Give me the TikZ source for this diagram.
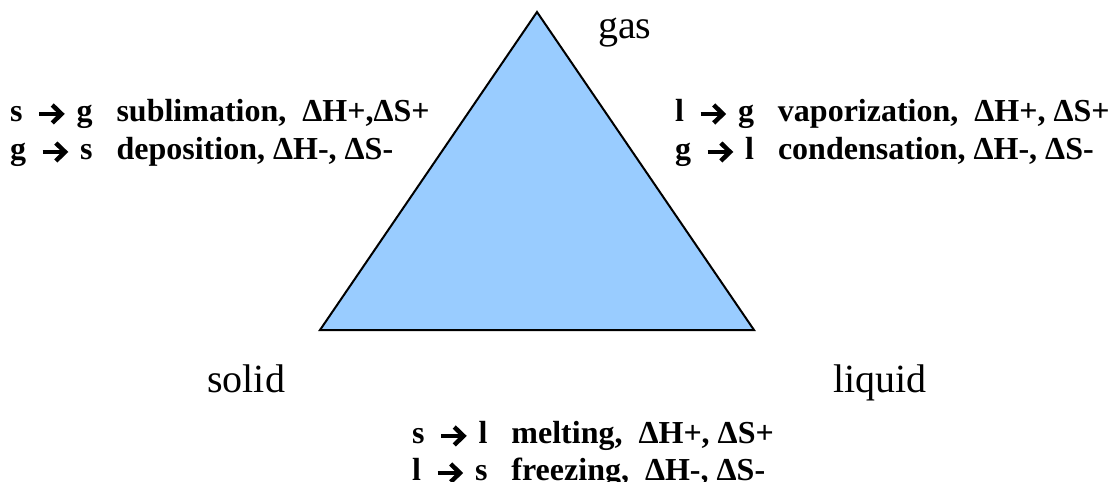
\documentclass[tikz,border=0pt]{standalone}
\usepackage{fontspec}
\setmainfont{Liberation Serif}
\definecolor{triblue}{HTML}{99CCFF}
\newcommand{\thickarr}{\kern0.2em\tikz[baseline=-0.22em]{\draw[line width=0.13em,line cap=butt] (0em,0em)--(0.64em,0em);\draw[line width=0.14em,line join=miter,line cap=butt] (0.41em,0.28em)--(0.7em,0em)--(0.41em,-0.28em);}\kern0.15em}
\tikzset{
  lbl/.style={anchor=base west, inner sep=0pt, font=\bfseries\fontsize{32}{38}\selectfont},
  phase/.style={anchor=base west, inner sep=0pt, font=\fontsize{40}{48}\selectfont},
  tri/.style={draw=black, fill=triblue, line width=2pt, line join=miter}
}
\begin{document}
\begin{tikzpicture}[x=1pt,y=-1pt]
\useasboundingbox (0,0) rectangle (1112,482);
\coordinate (A) at (537,12);
\coordinate (B) at (320,330);
\coordinate (C) at (754,330);
\draw[tri] (A) -- (B) -- (C) -- cycle;
\node[phase] (gas) at (598,38) {gas};
\node[phase] (solid) at (207,392) {solid};
\node[phase] (liquid) at (833,392) {liquid};
\node[lbl] (sg) at (10,121) {s\ \thickarr\ g\hspace{0.75em}sublimation,\hspace{0.5em}ΔH+,ΔS+};
\node[lbl] (gs) at (10,159) {g\ \thickarr\ s\hspace{0.75em}deposition,\ ΔH-, ΔS-};
\node[lbl] (lg) at (675,121) {l\ \thickarr\ g\hspace{0.75em}vaporization,\hspace{0.5em}ΔH+, ΔS+};
\node[lbl] (gl) at (675,159) {g\ \thickarr\ l\hspace{0.75em}condensation,\ ΔH-, ΔS-};
\node[lbl] (sl) at (412,443) {s \thickarr\ l\hspace{0.75em}melting,\hspace{0.5em}ΔH+, ΔS+};
\node[lbl] (ls) at (412,480) {l\ \thickarr\ s\hspace{0.75em}freezing,\hspace{0.5em}ΔH-, ΔS-};
\end{tikzpicture}
\end{document}
